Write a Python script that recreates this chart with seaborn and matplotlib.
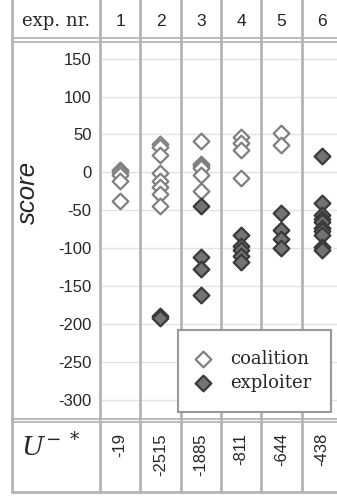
#!/usr/bin/env python3
"""Score per experiment: coalition vs exploiter, drawn as a table-like chart."""

import matplotlib

matplotlib.use("Agg")
import matplotlib.pyplot as plt
import pandas as pd
import seaborn as sns
from matplotlib.lines import Line2D

# --- data -----------------------------------------------------------------
EXP_IDS = [1, 2, 3, 4, 5, 6]
COALITION_SCORES = [
    [3, 0, -4, -11, -38],
    [38, 34, 23, -1, -12, -19, -29, -45],
    [42, 11, 8, 6, -4, -24],
    [46, 39, 29, -8],
    [52, 36],
    [],
]
EXPLOITER_SCORES = [
    [],
    [-190, -192],
    [-45, -112, -128, -162],
    [-83, -97, -103, -110, -118],
    [-53, -76, -88, -100],
    [22, -40, -56, -62, -66, -74, -78, -83, -98, -103],
]
U_STAR = [-19, -2515, -1885, -811, -644, -438]
Y_TICKS = [150, 100, 50, 0, -50, -100, -150, -200, -250, -300]

# --- layout (pixels of a 337x496 canvas) ----------------------------------
W, H = 337, 496
LINE = "#b4b4b4"
GRID = "#e2e2e2"
SANS = "Liberation Sans"
SERIF = "DejaVu Serif"


def fx(x):
    return x / W


def fy(y):
    return 1 - y / H


def hline(fig, y, x0=12, x1=W, lw=1.3):
    fig.add_artist(Line2D([fx(x0), fx(x1)], [fy(y), fy(y)],
                          transform=fig.transFigure, color=LINE, lw=lw))


def main():
    sns.set_style("white")
    plt.rcParams["font.family"] = [SANS, "DejaVu Sans"]
    plt.rcParams["mathtext.fontset"] = "dejavuserif"

    rows = []
    for exp, vals in zip(EXP_IDS, COALITION_SCORES):
        rows += [{"exp": exp, "score": v, "role": "coalition"} for v in vals]
    for exp, vals in zip(EXP_IDS, EXPLOITER_SCORES):
        rows += [{"exp": exp, "score": v, "role": "exploiter"} for v in vals]
    df = pd.DataFrame(rows)

    fig = plt.figure(figsize=(W / 100, H / 100), dpi=100)
    top, bottom = 42, 419
    ax = fig.add_axes([fx(100), fy(bottom), fx(342) - fx(100), fy(top) - fy(bottom)])

    sns.scatterplot(data=df[df.role == "coalition"], x="exp", y="score", ax=ax,
                    marker="D", s=64, color="white", edgecolor="#808080",
                    linewidth=1.6, label="coalition", zorder=3)
    sns.scatterplot(data=df[df.role == "exploiter"], x="exp", y="score", ax=ax,
                    marker="D", s=64, color="#737373", edgecolor="#3a3a3a",
                    linewidth=1.6, label="exploiter", zorder=4)

    ax.set_xlim(0.5, 6.5)
    ax.set_ylim(-325.5, 172)
    ax.set_xticks([])
    ax.set_yticks(Y_TICKS)
    ax.set_yticklabels([str(t) for t in Y_TICKS])
    ax.tick_params(axis="y", length=0, pad=6, labelsize=12)
    ax.yaxis.grid(True, color=GRID, lw=1)
    ax.set_axisbelow(True)
    ax.set_xlabel("")
    ax.set_ylabel("")
    for sp in ax.spines.values():
        sp.set_visible(False)

    # column separators running through header and footer rows
    span = bottom - top
    ymin = -(492 - bottom) / span
    ymax = 1 + top / span
    for k in range(len(EXP_IDS) + 1):
        ax.axvline(k + 0.5, ymin=ymin, ymax=ymax, color=LINE, lw=2,
                   clip_on=False, zorder=1)

    # outer border and double rules
    fig.add_artist(Line2D([fx(12), fx(12)], [fy(0), fy(492)],
                          transform=fig.transFigure, color=LINE, lw=2))
    hline(fig, 492, lw=2)
    for y in (38.3, 41.7, 419, 422.3):
        hline(fig, y)

    # header row
    fig.text(fx(56), fy(21), "exp. nr.", family=SERIF, fontsize=13,
             ha="center", va="center")
    for exp in EXP_IDS:
        xpix = ax.transData.transform((exp, 0))[0]
        fig.text(xpix / W, fy(21), str(exp), fontsize=12.5,
                 ha="center", va="center")

    # footer row
    fig.text(fx(21), fy(447), r"$U^{-\ *}$", fontsize=19, ha="left", va="center")
    for exp, u in zip(EXP_IDS, U_STAR):
        xpix = ax.transData.transform((exp, 0))[0]
        fig.text(xpix / W, fy(433), str(u), fontsize=12, rotation=90,
                 ha="center", va="top")

    fig.text(fx(28), fy(192), "score", fontsize=18.5, style="italic",
             rotation=90, ha="center", va="center")

    ax.legend(loc="upper left", bbox_to_anchor=(fx(178), fy(330)),
              bbox_transform=fig.transFigure, prop={"family": SERIF, "size": 13},
              frameon=True, fancybox=False, framealpha=1, edgecolor="#999999",
              borderpad=1.1, handlelength=0.6, handletextpad=1.2,
              labelspacing=0.35, borderaxespad=0)
    ax.get_legend().get_frame().set_linewidth(1.5)

    fig.savefig("out.png", dpi=100)
    plt.close(fig)


if __name__ == "__main__":
    main()
